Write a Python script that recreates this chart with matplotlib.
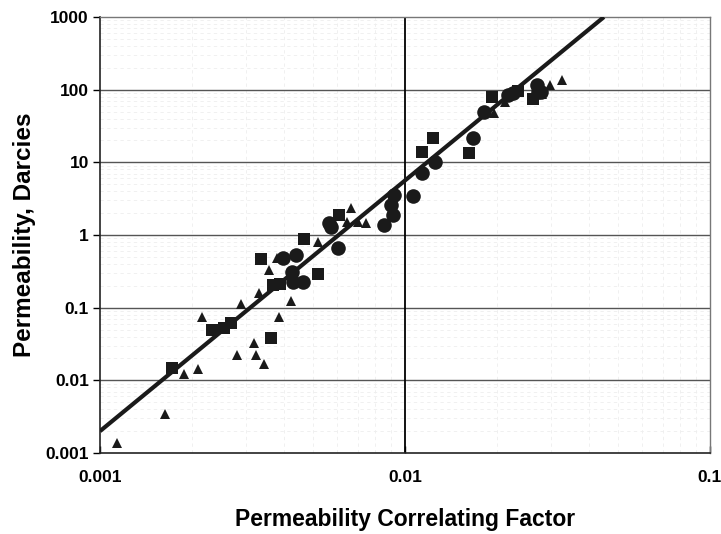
import matplotlib
matplotlib.use("Agg")
import matplotlib.pyplot as plt
from matplotlib.ticker import FixedLocator, FixedFormatter, LogLocator, NullFormatter

plt.rcParams['font.family'] = ['Liberation Sans', 'DejaVu Sans']

# Data
circle_x = [0.00398, 0.0044, 0.00426, 0.00429, 0.00463, 0.00564, 0.00571, 0.00603,
            0.00853, 0.00914, 0.0090, 0.00923, 0.0106, 0.01137, 0.01254, 0.0167,
            0.0182, 0.0218, 0.0226, 0.0271, 0.0273, 0.0280]
circle_y = [0.48, 0.53, 0.31, 0.225, 0.225, 1.46, 1.28, 0.66,
            1.37, 1.88, 2.58, 3.6, 3.45, 7.1, 10.2, 21.5,
            49, 84, 89, 115, 92, 92]

square_x = [0.00172, 0.00233, 0.00255, 0.00269, 0.00364, 0.00337, 0.00369, 0.00389,
            0.00466, 0.00519, 0.00608, 0.01137, 0.01236, 0.0162, 0.0193, 0.0235, 0.0263]
square_y = [0.0148, 0.049, 0.052, 0.061, 0.038, 0.466, 0.205, 0.215,
            0.88, 0.29, 1.9, 13.8, 21.5, 13.4, 79, 95, 74]

triangle_x = [0.00114, 0.00163, 0.00188, 0.0021, 0.00216, 0.00281, 0.0029, 0.0032,
              0.00325, 0.00345, 0.00332, 0.00358, 0.0038, 0.00386, 0.00423, 0.00519,
              0.00645, 0.00665, 0.00702, 0.00745, 0.0196, 0.0213, 0.0281, 0.0299, 0.0327]
triangle_y = [0.00137, 0.0034, 0.0122, 0.0143, 0.074, 0.0223, 0.112, 0.0326,
              0.0223, 0.0168, 0.159, 0.33, 0.48, 0.074, 0.125, 0.8,
              1.5, 2.34, 1.5, 1.46, 47, 67, 88, 115, 136]

fit_x = [0.001, 0.0449]
fit_y = [0.002, 1000]

x_ticks = [0.001, 0.01, 0.1]
x_labels = ["0.001", "0.01", "0.1"]
y_ticks = [0.001, 0.01, 0.1, 1, 10, 100, 1000]
y_labels = ["0.001", "0.01", "0.1", "1", "10", "100", "1000"]

fig = plt.figure(figsize=(7.21, 5.34), dpi=100)
ax = fig.add_axes([100/721, 1-453/534, 610/721, (453-17)/534])
ax.set_xscale('log')
ax.set_yscale('log')
ax.set_xlim(0.001, 0.1)
ax.set_ylim(0.001, 1000)
ax.set_axisbelow(True)

# faint minor grid (scanned background)
ax.xaxis.set_minor_locator(LogLocator(base=10, subs=range(2, 10)))
ax.yaxis.set_minor_locator(LogLocator(base=10, subs=range(2, 10)))
ax.xaxis.set_minor_formatter(NullFormatter())
ax.yaxis.set_minor_formatter(NullFormatter())
ax.grid(which='minor', color='#eeeeee', lw=0.6, ls=(0, (4, 4)))
for yv in y_ticks[1:-1]:
    ax.axhline(yv, color='#555555', lw=1.0, zorder=1)
ax.axvline(0.01, color='black', lw=1.3, zorder=2)

ax.plot(fit_x, fit_y, color='#1a1a1a', lw=3, solid_capstyle='butt', zorder=3)
ax.plot(circle_x, circle_y, 'o', color='#1a1a1a', ms=10.5, mew=0, zorder=4)
ax.plot(square_x, square_y, 's', color='#1a1a1a', ms=8, mew=0, zorder=4)
ax.plot(triangle_x, triangle_y, '^', color='#1a1a1a', ms=6.5, mew=0, zorder=4)

ax.xaxis.set_major_locator(FixedLocator(x_ticks))
ax.xaxis.set_major_formatter(FixedFormatter(x_labels))
ax.yaxis.set_major_locator(FixedLocator(y_ticks))
ax.yaxis.set_major_formatter(FixedFormatter(y_labels))
ax.tick_params(which='minor', length=0)
ax.tick_params(which='major', axis='y', length=5, width=1, direction='out', pad=3)
ax.tick_params(which='major', axis='x', length=5, width=1, direction='in', pad=12)
for lab in ax.get_xticklabels() + ax.get_yticklabels():
    lab.set_fontsize(12.5)
    lab.set_fontweight('bold')

for s in ['left', 'bottom']:
    ax.spines[s].set_color('#222222')
    ax.spines[s].set_linewidth(1.2)
for s in ['top', 'right']:
    ax.spines[s].set_color('#777777')
    ax.spines[s].set_linewidth(1.0)

ax.set_xlabel('Permeability Correlating Factor', fontsize=16.5, fontweight='bold', labelpad=17)
ax.set_ylabel('Permeability, Darcies', fontsize=17.5, fontweight='bold', labelpad=7)

fig.savefig('out.png', dpi=100)
